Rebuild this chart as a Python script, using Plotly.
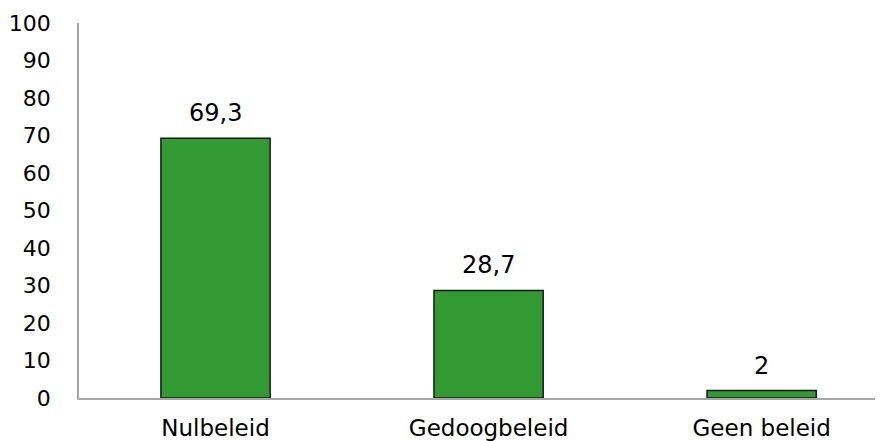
import plotly.graph_objects as go

categories = ["Nulbeleid", "Gedoogbeleid", "Geen beleid"]
values = [69.3, 28.7, 2]
value_labels = ["69,3", "28,7", "2"]
y_ticks = [0, 10, 20, 30, 40, 50, 60, 70, 80, 90, 100]

font_family = "DejaVu Sans, Verdana, sans-serif"

fig = go.Figure(
    go.Bar(
        x=categories,
        y=values,
        marker=dict(color="#339933", line=dict(color="#1a1a1a", width=1.5)),
        width=0.4,
        hoverinfo="x+y",
    )
)

for cat, val, lab in zip(categories, values, value_labels):
    fig.add_annotation(
        x=cat,
        y=val,
        text=lab,
        showarrow=False,
        yanchor="bottom",
        yshift=9,
        font=dict(family=font_family, size=24, color="#000000"),
    )

fig.update_layout(
    width=883,
    height=441,
    autosize=False,
    paper_bgcolor="white",
    plot_bgcolor="white",
    margin=dict(l=71, r=1, t=15, b=51, autoexpand=False),
    showlegend=False,
    font=dict(family=font_family, size=22, color="#000000"),
    xaxis=dict(
        range=[-0.5, 2.47],
        automargin=False,
        showline=True,
        linecolor="#a6a6a6",
        linewidth=1.5,
        showgrid=False,
        ticks="",
        ticklabelstandoff=9,
        tickfont=dict(family=font_family, size=23, color="#000000"),
    ),
    yaxis=dict(
        range=[0, 100],
        automargin=False,
        tickvals=y_ticks,
        showline=True,
        linecolor="#a6a6a6",
        linewidth=1.5,
        showgrid=False,
        zeroline=False,
        ticks="",
        ticklabelstandoff=22,
        tickfont=dict(family=font_family, size=22, color="#000000"),
    ),
)

fig.write_html("out.html")
